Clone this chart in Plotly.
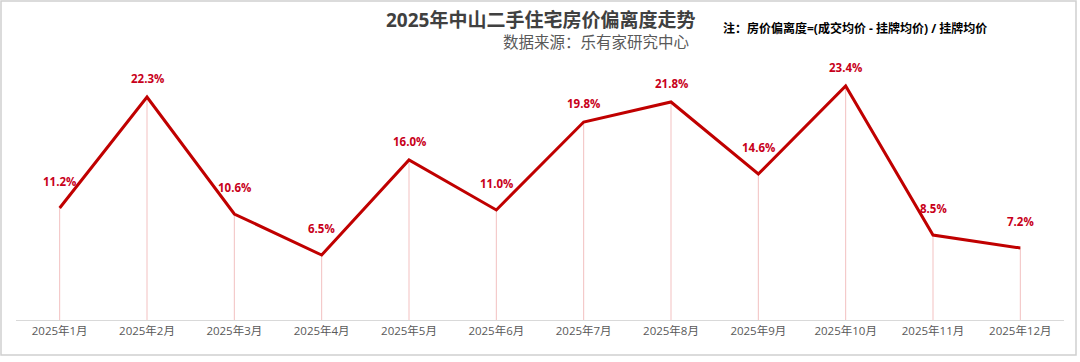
import plotly.graph_objects as go

months = ["2025年1月", "2025年2月", "2025年3月", "2025年4月", "2025年5月", "2025年6月",
          "2025年7月", "2025年8月", "2025年9月", "2025年10月", "2025年11月", "2025年12月"]
deviation = [11.2, 22.3, 10.6, 6.5, 16.0, 11.0, 19.8, 21.8, 14.6, 23.4, 8.5, 7.2]

title = "2025年中山二手住宅房价偏离度走势"
subtitle = "数据来源：乐有家研究中心"
note = "注：房价偏离度=(成交均价 - 挂牌均价) / 挂牌均价"

RED = "#c00000"
FONT = "Open Sans, Noto Sans CJK SC, sans-serif"

W, H = 1080, 362
ML, MR, MT, MB = 16, 16, 40, 42
PW, PH = W - ML - MR, H - MT - MB


def px(xpx):
    return (xpx - ML) / PW


def py(ypx):
    return (H - MB - ypx) / PH


fig = go.Figure()

# drop lines from each point to the axis
fig.add_trace(go.Scatter(
    x=months, y=deviation, mode="markers",
    marker=dict(size=1, color="rgba(0,0,0,0)"),
    error_y=dict(type="data", symmetric=False, array=[0] * len(deviation),
                 arrayminus=deviation, color="rgba(220,90,90,0.38)",
                 thickness=1, width=0),
    hoverinfo="skip", showlegend=False,
))

fig.add_trace(go.Scatter(
    x=months, y=deviation, mode="lines",
    line=dict(color=RED, width=3),
    showlegend=False,
))

for i, (m, v) in enumerate(zip(months, deviation)):
    rising = i > 0 and v >= deviation[i - 1]
    fig.add_annotation(
        x=m, y=v, text=f"<b>{v:.1f}%</b>", showarrow=False,
        yanchor="middle", yshift=19 if rising else 27,
        font=dict(family=FONT, size=11.5, color="#c8001a"),
    )

fig.add_annotation(
    xref="paper", yref="paper", x=px(540), y=py(20), xanchor="center", yanchor="middle",
    text=f"<b>{title}</b>", showarrow=False,
    font=dict(family=FONT, size=19, color="#404040"),
)
fig.add_annotation(
    xref="paper", yref="paper", x=px(691), y=py(42), xanchor="right", yanchor="middle",
    text=subtitle, showarrow=False,
    font=dict(family=FONT, size=15.5, color="#595959"),
)
fig.add_annotation(
    xref="paper", yref="paper", x=px(721), y=py(29), xanchor="left", yanchor="middle",
    text=f"<b>{note}</b>", showarrow=False,
    font=dict(family=FONT, size=12, color="#000000"),
)

# outer frame
fig.add_shape(type="rect", xref="paper", yref="paper",
              x0=px(1), x1=px(1076), y0=py(355), y1=py(1),
              line=dict(color="#d0d0d0", width=1.5), fillcolor="rgba(0,0,0,0)", layer="below")

fig.update_layout(
    width=W, height=H,
    margin=dict(l=ML, r=MR, t=MT, b=MB),
    paper_bgcolor="white", plot_bgcolor="white",
    font=dict(family=FONT),
    xaxis=dict(
        type="category", showgrid=False, showline=True, linecolor="#d9d9d9",
        linewidth=1, ticks="", tickfont=dict(size=11.5, color="#595959", family=FONT),
        range=[-0.5, 11.5],
    ),
    yaxis=dict(range=[0, 28], visible=False, showgrid=False, zeroline=False),
)

fig.write_html("out.html", config={"displayModeBar": False},
               post_script="document.body.style.margin='0';")
